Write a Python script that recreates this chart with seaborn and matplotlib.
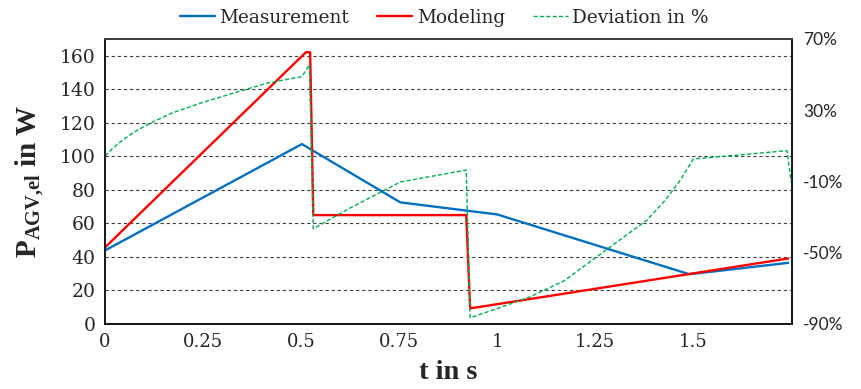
import numpy as np
import pandas as pd
import matplotlib
matplotlib.use("Agg")
import matplotlib.pyplot as plt
import seaborn as sns

# ---- data ----
t_meas = [0.0, 0.502, 0.753, 1.0, 1.49, 1.742]
p_meas = [43.7, 107.2, 72.4, 65.2, 29.5, 36.3]

t_model = [0.0, 0.512, 0.523, 0.531, 0.921, 0.931, 1.742]
p_model = [45.5, 162.0, 162.0, 64.8, 64.8, 9.1, 38.9]

t_dev = [0.0, 0.02, 0.04, 0.075, 0.115, 0.17, 0.242, 0.327, 0.412, 0.502, 0.521, 0.531, 0.625,
         0.753, 0.921, 0.931, 1.0, 1.084, 1.17, 1.254, 1.382, 1.429, 1.467,
         1.50, 1.739, 1.75]
dev_pct = [4.2, 8.6, 12.3, 17.8, 22.6, 28.3, 33.8, 39.5, 45.1, 48.8, 55.4, -36.7, -25.0,
           -10.4, -3.7, -86.7, -81.5, -74.9, -66.0, -52.4, -31.8, -20.5, -9.3,
           2.5, 7.2, -10.8]

x_ticks = [0, 0.25, 0.5, 0.75, 1.0, 1.25, 1.5]
x_tick_labels = ["0", "0.25", "0.5", "0.75", "1", "1.25", "1.5"]
left_ticks = [0, 20, 40, 60, 80, 100, 120, 140, 160]
right_ticks = [-90, -50, -10, 30, 70]
right_tick_labels = ["-90%", "-50%", "-10%", "30%", "70%"]

sns.set_theme(style="white")
plt.rcParams['font.family'] = ['DejaVu Serif']
plt.rcParams['mathtext.fontset'] = 'custom'
plt.rcParams['mathtext.bf'] = 'Liberation Serif:bold'
plt.rcParams['mathtext.rm'] = 'Liberation Serif'

fig = plt.figure(figsize=(8.61, 3.89), dpi=100)
ax = fig.add_axes([0.122, 0.168, 0.798, 0.732])
ax2 = ax.twinx()

sns.lineplot(x=t_meas, y=p_meas, ax=ax, color='#0070C0', lw=1.7,
             sort=False, estimator=None, label='Measurement')
sns.lineplot(x=t_model, y=p_model, ax=ax, color='#FF0000', lw=1.7,
             sort=False, estimator=None, label='Modeling')
sns.lineplot(x=t_dev, y=dev_pct, ax=ax2, color='#00B050', lw=1.0,
             sort=False, estimator=None, label='Deviation in %',
             dashes=False)
ax2.lines[0].set_dashes((3, 1.6))

ax.set_xlim(0, 1.752)
ax.set_ylim(0, 170)
ax2.set_ylim(-90, 70)

ax.set_xticks(x_ticks)
ax.set_xticklabels(x_tick_labels, fontsize=13)
ax.set_yticks(left_ticks)
ax.set_yticklabels([str(v) for v in left_ticks], fontsize=13.5)
ax2.set_yticks(right_ticks)
ax2.set_yticklabels(right_tick_labels, fontsize=12.5, family='Lato')

ax.tick_params(axis='both', length=0, pad=7)
ax2.tick_params(axis='y', length=0, pad=8)

ax.yaxis.grid(True, linestyle=(0, (3, 2.5)), color='#404040', lw=0.8)
ax.xaxis.grid(False)
ax2.grid(False)

for a in (ax, ax2):
    for s in a.spines.values():
        s.set_visible(True)
        s.set_color('#1a1a1a')
        s.set_linewidth(1.3)
    a.spines['top'].set_color('#404040')

ax.set_xlabel("t in s", family='Liberation Serif', fontweight='bold',
              fontsize=20.5, labelpad=6)
ax.set_ylabel(r"$\mathbf{P}_{\mathbf{AGV{,}el}}$ in W", family='Liberation Serif',
              fontweight='bold', fontsize=21, labelpad=9)
ax2.set_ylabel("")

h1, l1 = ax.get_legend_handles_labels()
h2, l2 = ax2.get_legend_handles_labels()
for a in (ax, ax2):
    if a.get_legend() is not None:
        a.get_legend().remove()
fig.legend(h1 + h2, l1 + l2, loc='center', bbox_to_anchor=(0.516, 0.955),
           ncol=3, frameon=False, fontsize=13.3, handlelength=1.9,
           handletextpad=0.25, columnspacing=1.5)

fig.savefig("out.png", dpi=100)
